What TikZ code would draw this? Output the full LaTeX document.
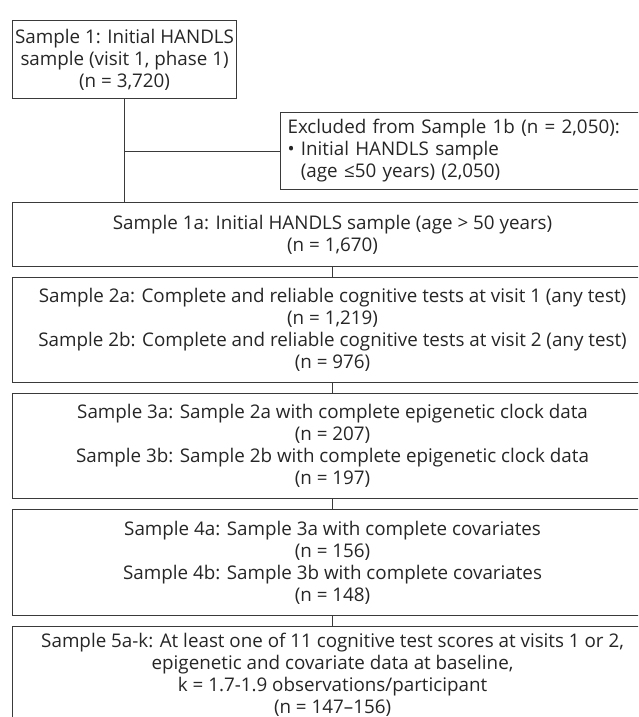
\documentclass[tikz,border=0pt]{standalone}
\usepackage{fontspec}
\setmainfont{Open Sans}
\definecolor{linec}{HTML}{3A3A3A}
\definecolor{textc}{HTML}{262626}
\begin{document}
\begin{tikzpicture}[x=1pt,y=-1pt,
  box/.style={draw=linec, line width=1.1pt, rectangle, inner sep=0pt, align=center,
    text=textc, font=\fontsize{18.8}{22}\selectfont},
  wide/.style={box, minimum width=640pt, anchor=north west},
  link/.style={draw=linec, line width=1.1pt}]
\useasboundingbox (0,0) rectangle (638,717);
\clip (0,0) rectangle (638,717);
\fill[white] (0,0) rectangle (638,717);
\node[box, anchor=north west, minimum width=224pt, minimum height=78pt] (b1) at (12,20)
  {Sample 1: Initial HANDLS\\sample (visit 1, phase 1)\\(n = 3,720)};
\node[box, anchor=north west, minimum width=372pt, minimum height=77pt, align=left,
  text width=358pt, inner xsep=7pt] (ex) at (280,112)
  {Excluded from Sample 1b (n = 2,050):\\\textbullet\ Initial HANDLS sample\\\phantom{\textbullet\ }(age ≤50 years) (2,050)};
\node[wide, minimum height=64pt] (b1a) at (12,202)
  {Sample 1a: Initial HANDLS sample (age > 50 years)\\(n = 1,670)};
\node[wide, minimum height=105pt] (b2) at (12,277)
  {Sample 2a: Complete and reliable cognitive tests at visit 1 (any test)\\(n = 1,219)\\Sample 2b: Complete and reliable cognitive tests at visit 2 (any test)\\(n = 976)};
\node[wide, minimum height=105pt] (b3) at (12,393)
  {Sample 3a: Sample 2a with complete epigenetic clock data\\(n = 207)\\Sample 3b: Sample 2b with complete epigenetic clock data\\(n = 197)};
\node[wide, minimum height=106pt] (b4) at (12,509)
  {Sample 4a: Sample 3a with complete covariates\\(n = 156)\\Sample 4b: Sample 3b with complete covariates\\(n = 148)};
\node[wide, minimum height=97pt] (b5) at (12,626)
  {Sample 5a-k: At least one of 11 cognitive test scores at visits 1 or 2,\\epigenetic and covariate data at baseline,\\k = 1.7-1.9 observations/participant\\(n = 147–156)};
\draw[link] (b1.south) -- (b1.south |- b1a.north);
\draw[link] (ex.west) -- (ex.west -| b1.south);
\draw[link] (b1a.south) -- (b2.north);
\draw[link] (b2.south) -- (b3.north);
\draw[link] (b3.south) -- (b4.north);
\draw[link] (b4.south) -- (b5.north);
\end{tikzpicture}
\end{document}
